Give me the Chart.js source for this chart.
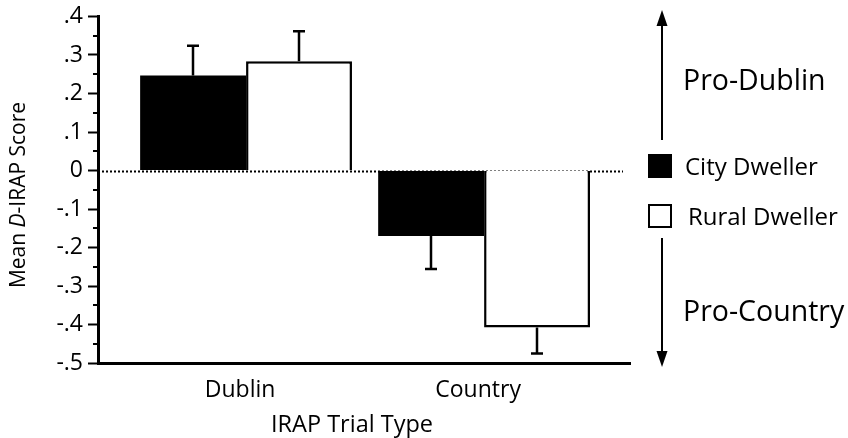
<!DOCTYPE html>
<html>
<head>
<meta charset="utf-8">
<script src="https://cdn.jsdelivr.net/npm/chart.js@4"></script>
<style>
  html, body { margin: 0; padding: 0; background: #fff; }
  canvas { display: block; }
</style>
</head>
<body>
<canvas id="c" width="848" height="438"></canvas>
<script>
// ---- data ----
const categories = ['Dublin', 'Country'];
const seriesNames = ['City Dweller', 'Rural Dweller'];
const cityMeans = [0.247, -0.170];
const ruralMeans = [0.284, -0.408];
const cityErrors = [0.077, 0.086];
const ruralErrors = [0.078, 0.067];
const yTickValues = [0.4, 0.3, 0.2, 0.1, 0, -0.1, -0.2, -0.3, -0.4, -0.5];
const yTitleParts = ['Mean ', 'D', '-IRAP Score'];
const xTitle = 'IRAP Trial Type';
const directionLabels = ['Pro-Dublin', 'Pro-Country'];

const FONT = "'Open Sans', 'Liberation Sans', sans-serif";

function fmtTick(v) {
  const r = Math.round(v * 10) / 10;
  if (r === 0) return '0';
  return r.toFixed(1).replace('0.', '.');
}

const errorsByDataset = [cityErrors, ruralErrors];
const meansByDataset = [cityMeans, ruralMeans];

const annot = {
  id: 'annot',
  beforeDatasetsDraw(chart) {
    const { ctx, chartArea, scales: { y } } = chart;
    const py = Math.round(y.getPixelForValue(0)) + 0.5;
    ctx.save();
    ctx.strokeStyle = '#000';
    ctx.lineWidth = 2;
    ctx.setLineDash([2, 2]);
    ctx.beginPath();
    ctx.moveTo(chartArea.left, py);
    ctx.lineTo(chartArea.right - 7, py);
    ctx.stroke();
    ctx.restore();
  },
  afterDatasetsDraw(chart) {
    const { ctx, scales: { y } } = chart;
    ctx.save();
    ctx.strokeStyle = '#000';
    ctx.lineWidth = 2.5;
    meansByDataset.forEach((means, d) => {
      const meta = chart.getDatasetMeta(d);
      means.forEach((m, i) => {
        const bar = meta.data[i];
        const err = errorsByDataset[d][i];
        const end = m >= 0 ? m + err : m - err;
        const y0 = y.getPixelForValue(m);
        const y1 = y.getPixelForValue(end);
        const x = Math.round(bar.x);
        ctx.beginPath();
        ctx.moveTo(x, y0);
        ctx.lineTo(x, y1);
        ctx.moveTo(x - 6, y1);
        ctx.lineTo(x + 6, y1);
        ctx.stroke();
      });
    });
    ctx.restore();
  },
  afterDraw(chart) {
    const { ctx, chartArea, scales: { y } } = chart;
    ctx.save();
    // minor ticks
    ctx.strokeStyle = '#000';
    ctx.lineWidth = 2;
    for (let i = 0; i < yTickValues.length - 1; i++) {
      const v = (yTickValues[i] + yTickValues[i + 1]) / 2;
      const py = Math.round(y.getPixelForValue(v));
      ctx.beginPath();
      ctx.moveTo(chartArea.left - 5, py);
      ctx.lineTo(chartArea.left, py);
      ctx.stroke();
    }
    // y title (rotated, with italic D)
    ctx.fillStyle = '#000';
    ctx.save();
    ctx.translate(25, 195);
    ctx.rotate(-Math.PI / 2);
    ctx.textBaseline = 'alphabetic';
    const fonts = [`21px ${FONT}`, `italic 21px ${FONT}`, `21px ${FONT}`];
    let total = 0;
    const widths = yTitleParts.map((t, k) => { ctx.font = fonts[k]; const w = ctx.measureText(t).width; total += w; return w; });
    let xx = -total / 2;
    yTitleParts.forEach((t, k) => { ctx.font = fonts[k]; ctx.textAlign = 'left'; ctx.fillText(t, xx, 0); xx += widths[k]; });
    ctx.restore();
    // x title
    ctx.font = `23.5px ${FONT}`;
    ctx.textAlign = 'center';
    ctx.textBaseline = 'alphabetic';
    ctx.fillText(xTitle, 352, 432);
    // legend
    const rows = [166, 216];
    chart.data.datasets.forEach((ds, k) => {
      const cy = rows[k];
      if (k === 0) {
        ctx.fillStyle = ds.backgroundColor;
        ctx.fillRect(648, cy - 12, 24, 24);
      } else {
        ctx.fillStyle = ds.backgroundColor;
        ctx.fillRect(649, cy - 11, 22, 22);
        ctx.strokeStyle = ds.borderColor;
        ctx.lineWidth = 2;
        ctx.strokeRect(649, cy - 11, 22, 22);
      }
      ctx.fillStyle = '#000';
      ctx.font = `24px ${FONT}`;
      ctx.textAlign = 'left';
      ctx.textBaseline = 'alphabetic';
      ctx.fillText(ds.label, k === 0 ? 685 : 688, cy + 9);
    });
    // arrows
    ctx.strokeStyle = '#000';
    ctx.fillStyle = '#000';
    ctx.lineWidth = 2;
    ctx.beginPath();
    ctx.moveTo(662, 24); ctx.lineTo(662, 140);
    ctx.moveTo(662, 238); ctx.lineTo(662, 352);
    ctx.stroke();
    ctx.beginPath();
    ctx.moveTo(662, 10); ctx.lineTo(656.5, 26); ctx.lineTo(667.5, 26); ctx.closePath(); ctx.fill();
    ctx.beginPath();
    ctx.moveTo(662, 367); ctx.lineTo(656.5, 351); ctx.lineTo(667.5, 351); ctx.closePath(); ctx.fill();
    // direction labels
    ctx.font = `28.5px ${FONT}`;
    ctx.textAlign = 'left';
    ctx.textBaseline = 'alphabetic';
    ctx.fillText(directionLabels[0], 683, 90);
    ctx.fillText(directionLabels[1], 683, 321);
    ctx.restore();
  }
};

new Chart(document.getElementById('c'), {
  type: 'bar',
  data: {
    datasets: [
      {
        label: seriesNames[0],
        data: categories.map((c, i) => ({ x: i + 1, y: cityMeans[i] })),
        backgroundColor: '#000',
        borderColor: '#000',
        borderWidth: 0
      },
      {
        label: seriesNames[1],
        data: categories.map((c, i) => ({ x: i + 1, y: ruralMeans[i] })),
        backgroundColor: '#fff',
        borderColor: '#000',
        borderWidth: 2.5
      }
    ]
  },
  options: {
    responsive: false,
    animation: false,
    devicePixelRatio: 1,
    categoryPercentage: 0.89,
    barPercentage: 1,
    layout: { padding: { left: 0, top: 12, right: 218, bottom: 0 } },
    plugins: { legend: { display: false }, tooltip: { enabled: false } },
    scales: {
      x: {
        type: 'linear',
        min: 0.378,
        max: 2.613,
        offset: false,
        grid: { display: false, offset: false },
        border: { display: true, color: '#000', width: 3 },
        afterBuildTicks: (scale) => { scale.ticks = categories.map((c, i) => ({ value: i + 1 })); },
        afterFit: (scale) => { scale.height = 75; },
        ticks: {
          callback: (v) => categories[Math.round(v) - 1],
          color: '#000',
          font: { family: FONT, size: 23, lineHeight: 1 },
          padding: 8,
          labelOffset: -6,
          maxRotation: 0,
          autoSkip: false
        }
      },
      y: {
        min: -0.5,
        max: 0.4,
        grid: { drawOnChartArea: false, drawTicks: true, tickLength: 10, tickWidth: 2, tickColor: '#000' },
        border: { display: true, color: '#000', width: 3 },
        afterBuildTicks: (scale) => { scale.ticks = yTickValues.map(v => ({ value: v })); },
        afterFit: (scale) => { scale.width = 98; },
        ticks: {
          callback: (v) => fmtTick(v),
          color: '#000',
          font: { family: FONT, size: 23, lineHeight: 1 },
          padding: 5,
          autoSkip: false
        }
      }
    }
  },
  plugins: [annot]
});
</script>
</body>
</html>
